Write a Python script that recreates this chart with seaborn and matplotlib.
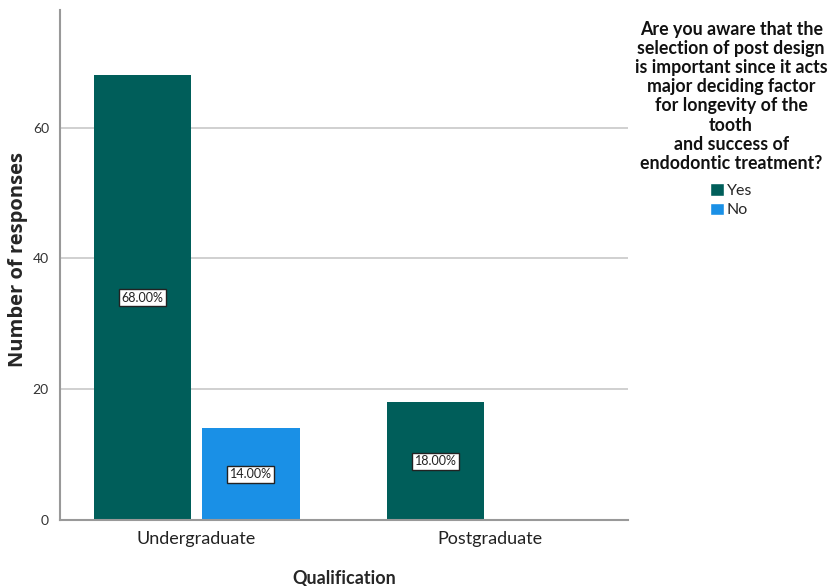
import matplotlib
matplotlib.use("Agg")
import matplotlib.pyplot as plt
import seaborn as sns
import pandas as pd
from matplotlib.patches import Patch

qualifications = ["Undergraduate", "Undergraduate", "Postgraduate", "Postgraduate"]
answers = ["Yes", "No", "Yes", "No"]
responses = [68, 14, 18, 0]
percent_labels = ["68.00%", "14.00%", "18.00%", ""]

colors = {"Yes": "#005e5a", "No": "#1a90e6"}

df = pd.DataFrame({"Qualification": qualifications, "Answer": answers,
                   "Responses": responses, "Label": percent_labels})

sns.set_theme(style="white")
plt.rcParams["font.family"] = ["Lato", "DejaVu Sans"]

fig = plt.figure(figsize=(8.29, 5.86), dpi=100)
ax = fig.add_axes([0.0724, 0.1126, 0.6851, 0.8704])

sns.barplot(data=df, x="Qualification", y="Responses", hue="Answer",
            order=["Undergraduate", "Postgraduate"], hue_order=["Yes", "No"],
            palette=colors, saturation=1, width=0.74, gap=0.1, legend=False,
            ax=ax, edgecolor="none", linewidth=0)

# Grid lines behind bars
for v in [20, 40, 60]:
    ax.axhline(v, color="#c8c8c8", lw=1.2, zorder=0)
ax.set_axisbelow(True)

ax.set_ylim(0, 78)
ax.set_xlim(-0.466, 1.472)
ax.set_yticks([0, 20, 40, 60])
ax.tick_params(axis="y", length=0, labelsize=10, labelcolor="#333333", pad=8)
ax.tick_params(axis="x", length=0, labelsize=13, labelcolor="#222222", pad=8)

for side in ["top", "right"]:
    ax.spines[side].set_visible(False)
for side in ["left", "bottom"]:
    ax.spines[side].set_color("#999999")
    ax.spines[side].set_linewidth(1.5)

ax.set_xlabel("Qualification", fontsize=13, fontweight="bold", labelpad=16)
ax.set_ylabel("Number of responses", fontsize=14.5, fontweight="bold",
              family=["Open Sans", "DejaVu Sans"])
ax.yaxis.set_label_coords(-0.057, 0.51)

# Percent labels at the middle of each bar
lookup = {(q, a): lab for q, a, lab in zip(qualifications, answers, percent_labels)}
cats = ["Undergraduate", "Postgraduate"]
for container, ans in zip(ax.containers, ["Yes", "No"]):
    for bar, cat in zip(container, cats):
        lab = lookup[(cat, ans)]
        h = bar.get_height()
        if not lab or h <= 0:
            continue
        ax.text(bar.get_x() + bar.get_width() / 2, h / 2, lab,
                ha="center", va="center", fontsize=9, color="#222222",
                bbox=dict(boxstyle="square,pad=0.2", fc="white", ec="#222222", lw=1))

# Legend title block and entries
title = ("Are you aware that the\nselection of post design\nis important since it acts\n"
         "major deciding factor\nfor longevity of the\ntooth\nand success of\n"
         "endodontic treatment?")
fig.text(0.882, 0.965, title, ha="center", va="top", multialignment="center",
         fontsize=12.8, fontweight="bold", color="#111111", linespacing=1.16)

handles = [Patch(facecolor=colors["Yes"], label="Yes"),
           Patch(facecolor=colors["No"], label="No")]
fig.legend(handles=handles, loc="upper center", bbox_to_anchor=(0.882, 0.688),
           frameon=False, fontsize=11.5, handlelength=0.85, handleheight=0.85,
           handletextpad=0.2, labelspacing=0.3, borderaxespad=0, borderpad=0)

fig.savefig("out.png", dpi=100)
